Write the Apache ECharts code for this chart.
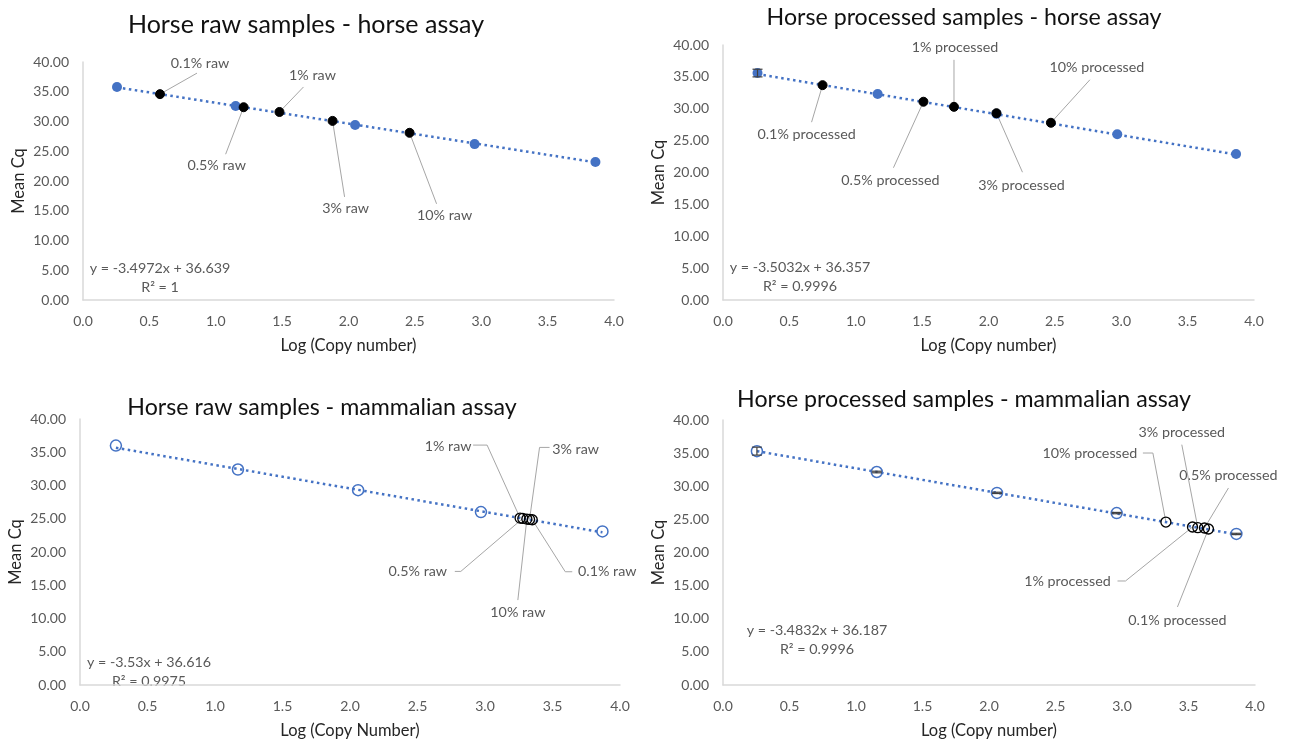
<!DOCTYPE html>
<html>
<head>
<meta charset="utf-8">
<script src="https://cdn.jsdelivr.net/npm/echarts@6/dist/echarts.min.js"></script>
<style>
  html, body { margin: 0; padding: 0; background: #fff; }
  #chart { width: 1289px; height: 740px; }
</style>
</head>
<body>
<div id="chart"></div>
<script>
// ---- Chart text ----
const panelTitles = [
  'Horse raw samples - horse assay',
  'Horse processed samples - horse assay',
  'Horse raw samples - mammalian assay',
  'Horse processed samples - mammalian assay'
];
const xAxisNames = ['Log (Copy number)', 'Log (Copy number)', 'Log (Copy Number)', 'Log (Copy number)'];
const yAxisName = 'Mean Cq';

// ---- Axis ticks ----
const xTickMin = 0, xTickMax = 4, xTickStep = 0.5;
const yTickMin = 0, yTickMax = 40, yTickStep = 5;

// ---- Standard curve points (log copy number, mean Cq, error) ----
const stdLog1 = [0.256, 1.15, 2.05, 2.95, 3.86];
const stdCq1 = [35.8, 32.6, 29.4, 26.2, 23.2];
const stdErr1 = [0, 0, 0, 0, 0];

const stdLog2 = [0.26, 1.165, 2.06, 2.97, 3.865];
const stdCq2 = [35.6, 32.3, 29.2, 26.0, 22.9];
const stdErr2 = [0.6, 0, 0, 0, 0];

const stdLog3 = [0.266, 1.17, 2.06, 2.97, 3.87];
const stdCq3 = [36.0, 32.4, 29.3, 26.0, 23.1];
const stdErr3 = [0, 0, 0, 0, 0];

const stdLog4 = [0.255, 1.156, 2.06, 2.96, 3.86];
const stdCq4 = [35.3, 32.15, 29.0, 25.95, 22.8];
const stdErr4 = [0.6, 0.12, 0.1, 0.1, 0.1];

// ---- Trendline fits (slope, intercept, R²) ----
const fitSlope = [-3.4972, -3.5032, -3.53, -3.4832];
const fitIntercept = [36.639, 36.357, 36.616, 36.187];
const fitR2 = ['1', '0.9996', '0.9975', '0.9996'];

// ---- Spiked samples ----
const sampleNames1 = ['0.1% raw', '0.5% raw', '1% raw', '3% raw', '10% raw'];
const sampleLog1 = [0.58, 1.21, 1.48, 1.88, 2.46];
const sampleCq1 = [34.6, 32.4, 31.6, 30.1, 28.1];

const sampleNames2 = ['0.1% processed', '0.5% processed', '1% processed', '3% processed', '10% processed'];
const sampleLog2 = [0.75, 1.51, 1.74, 2.06, 2.47];
const sampleCq2 = [33.7, 31.1, 30.3, 29.3, 27.8];

const sampleNames3 = ['0.1% raw', '0.5% raw', '1% raw', '3% raw', '10% raw'];
const sampleLog3 = [3.35, 3.28, 3.26, 3.33, 3.31];
const sampleCq3 = [24.85, 25.05, 25.1, 24.9, 24.95];

const sampleNames4 = ['0.1% processed', '0.5% processed', '1% processed', '3% processed', '10% processed'];
const sampleLog4 = [3.65, 3.62, 3.53, 3.57, 3.33];
const sampleCq4 = [23.55, 23.7, 23.85, 23.75, 24.6];

// ---- Layout ----
const FONT = 'Lato, "Open Sans", sans-serif';
const BLUE = '#4472C4';
const AXIS_GREY = '#d9d9d9';
const TEXT_GREY = '#595959';

const grids = [
  { left: 83, top: 62, width: 531, height: 238 },
  { left: 723, top: 45, width: 531, height: 255 },
  { left: 80, top: 419, width: 540, height: 273 },
  { left: 723, top: 420, width: 532, height: 265 }
];
const titlePos = [[306, 25], [964, 18], [322, 408], [964, 400]];
const titleSize = [25, 23.2, 23.2, 23.2];
const eqPos = [[160, 278], [800, 277], [149, 672], [817, 640]];

// callout layout per sample: label centre offset and leader path (from the point outward), in px
const callouts = [
  [
    { label: [40, -31], path: [[37, -21]] },
    { label: [-27, 58], path: [[-18, 47]] },
    { label: [33, -37], path: [[24, -25]] },
    { label: [13, 87], path: [[12, 76]] },
    { label: [35, 83], path: [[27, 71]] }
  ],
  [
    { label: [-16, 49], path: [[-11, 37]] },
    { label: [-33, 79], path: [[-30, 66]] },
    { label: [1, -59], path: [[0, -47]] },
    { label: [25, 72], path: [[26, 59]] },
    { label: [46, -55], path: [[39, -43]] }
  ],
  [
    { label: [75, 52], path: [[33, 52], [40, 52]] },
    { label: [-105, 53], path: [[-62, 53], [-68, 53]] },
    { label: [-72, -72], path: [[-33, -73], [-47, -73]] },
    { label: [46, -70], path: [[10, -72], [20, -72]] },
    { label: [-9, 93], path: [[-9, 81]] }
  ],
  [
    { label: [-31, 91], path: [[-31, 78]] },
    { label: [24, -53], path: [[24, -40]] },
    { label: [-125, 54], path: [[-67, 54], [-75, 54]] },
    { label: [-16, -95], path: [[-16, -83]] },
    { label: [-76, -69], path: [[-13, -69], [-23, -69]] }
  ]
];

const panels = [
  { stdLog: stdLog1, stdCq: stdCq1, stdErr: stdErr1, names: sampleNames1, sLog: sampleLog1, sCq: sampleCq1, hollow: false },
  { stdLog: stdLog2, stdCq: stdCq2, stdErr: stdErr2, names: sampleNames2, sLog: sampleLog2, sCq: sampleCq2, hollow: false },
  { stdLog: stdLog3, stdCq: stdCq3, stdErr: stdErr3, names: sampleNames3, sLog: sampleLog3, sCq: sampleCq3, hollow: true },
  { stdLog: stdLog4, stdCq: stdCq4, stdErr: stdErr4, names: sampleNames4, sLog: sampleLog4, sCq: sampleCq4, hollow: true }
];

const chart = echarts.init(document.getElementById('chart'), null, { renderer: 'canvas' });

const option = {
  animation: false,
  backgroundColor: '#fff',
  textStyle: { fontFamily: FONT },
  grid: grids.map(g => Object.assign({ containLabel: false }, g)),
  graphic: [],
  xAxis: [],
  yAxis: [],
  series: []
};

panels.forEach((p, k) => {
  option.xAxis.push({
    gridIndex: k, type: 'value', min: xTickMin, max: xTickMax, interval: xTickStep,
    name: xAxisNames[k], nameLocation: 'middle', nameGap: 37,
    nameTextStyle: { fontFamily: FONT, fontSize: 16.5, color: '#262626' },
    axisLine: { show: true, lineStyle: { color: AXIS_GREY, width: 1.5 } },
    axisTick: { show: false }, splitLine: { show: false },
    axisLabel: { color: TEXT_GREY, fontFamily: FONT, fontSize: 14, margin: 14, formatter: v => v.toFixed(1) }
  });
  option.yAxis.push({
    gridIndex: k, type: 'value', min: yTickMin, max: yTickMax, interval: yTickStep,
    name: yAxisName, nameLocation: 'middle', nameGap: 56,
    nameTextStyle: { fontFamily: FONT, fontSize: 16.5, color: '#262626' },
    axisLine: { show: true, lineStyle: { color: AXIS_GREY, width: 1.5 } },
    axisTick: { show: false }, splitLine: { show: false },
    axisLabel: { color: TEXT_GREY, fontFamily: FONT, fontSize: 14, margin: 14, formatter: v => v.toFixed(2) }
  });

  option.graphic.push({
    type: 'text', x: titlePos[k][0], y: titlePos[k][1],
    style: { text: panelTitles[k], align: 'center', verticalAlign: 'middle', fill: '#111', font: titleSize[k] + 'px ' + FONT }
  });

  // trendline equation, centred block
  option.graphic.push({
    type: 'text', x: eqPos[k][0], y: eqPos[k][1],
    style: {
      text: 'y = ' + fitSlope[k] + 'x + ' + fitIntercept[k] + '\nR² = ' + fitR2[k],
      align: 'center', verticalAlign: 'middle', fill: TEXT_GREY, font: '14.3px ' + FONT, lineHeight: 19
    }
  });

  // dotted linear trendline spanning the standards
  const x0 = Math.min.apply(null, p.stdLog), x1 = Math.max.apply(null, p.stdLog);
  option.series.push({
    type: 'line', xAxisIndex: k, yAxisIndex: k, z: 2, symbol: 'none', silent: true,
    data: [[x0, fitSlope[k] * x0 + fitIntercept[k]], [x1, fitSlope[k] * x1 + fitIntercept[k]]],
    lineStyle: { color: BLUE, width: 2.5, type: [2.5, 3.5], opacity: 1 }
  });

  // callout leader lines and labels
  const lay = callouts[k];
  const names = p.names;
  option.series.push({
    type: 'custom', xAxisIndex: k, yAxisIndex: k, z: 1, silent: true,
    data: p.sLog.map((v, i) => [v, p.sCq[i]]),
    renderItem: (params, api) => {
      const i = params.dataIndex;
      const c = api.coord([api.value(0), api.value(1)]);
      const pts = [c].concat(lay[i].path.map(o => [c[0] + o[0], c[1] + o[1]]));
      return {
        type: 'group', children: [
          { type: 'polyline', shape: { points: pts }, style: { stroke: '#a6a6a6', lineWidth: 1, fill: null } },
          { type: 'text', style: { text: names[i], x: c[0] + lay[i].label[0], y: c[1] + lay[i].label[1],
            align: 'center', verticalAlign: 'middle', fill: TEXT_GREY, font: '14.3px ' + FONT } }
        ]
      };
    }
  });

  // error bars on the standards
  option.series.push({
    type: 'custom', xAxisIndex: k, yAxisIndex: k, z: 4, silent: true,
    data: p.stdLog.map((v, i) => [v, p.stdCq[i], p.stdErr[i]]).filter(d => d[2] > 0),
    renderItem: (params, api) => {
      const x = api.value(0), y = api.value(1), e = api.value(2);
      const hi = api.coord([x, y + e]), lo = api.coord([x, y - e]);
      const w = 5;
      const st = { stroke: '#404040', lineWidth: 1.2 };
      return {
        type: 'group', children: [
          { type: 'line', shape: { x1: hi[0], y1: hi[1], x2: lo[0], y2: lo[1] }, style: st },
          { type: 'line', shape: { x1: hi[0] - w, y1: hi[1], x2: hi[0] + w, y2: hi[1] }, style: st },
          { type: 'line', shape: { x1: lo[0] - w, y1: lo[1], x2: lo[0] + w, y2: lo[1] }, style: st }
        ]
      };
    }
  });

  // standards
  option.series.push({
    type: 'scatter', xAxisIndex: k, yAxisIndex: k, z: 3,
    symbol: 'circle', symbolSize: p.hollow ? 11 : 10,
    itemStyle: p.hollow ? { color: 'rgba(0,0,0,0)', borderColor: BLUE, borderWidth: 1.5, opacity: 1 } : { color: BLUE, opacity: 1 },
    data: p.stdLog.map((v, i) => [v, p.stdCq[i]])
  });

  // spiked samples
  option.series.push({
    type: 'scatter', xAxisIndex: k, yAxisIndex: k, z: 5,
    symbol: 'circle', symbolSize: p.hollow ? 10 : 9,
    itemStyle: p.hollow ? { color: 'rgba(0,0,0,0)', borderColor: '#000', borderWidth: 1.3, opacity: 1 } : { color: '#000', borderColor: '#000', borderWidth: 1, opacity: 1 },
    data: p.sLog.map((v, i) => [v, p.sCq[i]])
  });
});

chart.setOption(option);
</script>
</body>
</html>
